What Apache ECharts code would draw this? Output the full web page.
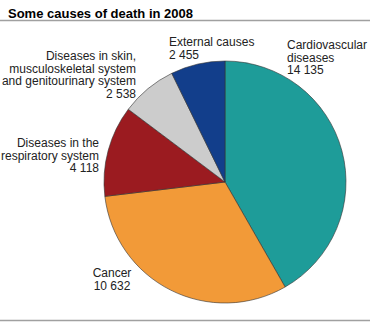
<!DOCTYPE html>
<html><head><meta charset="utf-8">
<script src="https://cdn.jsdelivr.net/npm/echarts@6/dist/echarts.min.js"></script>
<style>html,body{margin:0;padding:0;background:#fff}#c{width:370px;height:323px}</style>
</head><body><div id="c"></div>
<script>
const categories = ["Cardiovascular\ndiseases", "Cancer", "Diseases in the\nrespiratory system", "Diseases in skin,\nmusculoskeletal system\nand genitourinary system", "External causes"];
const values = [14135, 10632, 4118, 2538, 2455];
const valueLabels = ["14 135", "10 632", "4 118", "2 538", "2 455"];
const colors = ["#1e9c99", "#f29a38", "#9b1b20", "#cccccc", "#123e8b"];
const labelPos = [
  {x: 287, y: 39, align: 'left'},
  {x: 112, y: 267, align: 'center'},
  {x: 99, y: 137, align: 'right'},
  {x: 136, y: 50, align: 'right'},
  {x: 169, y: 36, align: 'left'}
];
const chart = echarts.init(document.getElementById('c'), null, {renderer: 'svg'});
chart.setOption({
  animation: false,
  title: {text: 'Some causes of death in 2008', left: 3, top: 2,
    textStyle: {fontFamily: 'Liberation Sans', fontWeight: 'bold', fontSize: 13, color: '#000'}},
  graphic: [
    {type: 'line', shape: {x1: 0, y1: 20.5, x2: 370, y2: 20.5}, style: {stroke: '#a0a0a0', lineWidth: 1.5}},
    {type: 'line', shape: {x1: 0, y1: 320.5, x2: 370, y2: 320.5}, style: {stroke: '#a0a0a0', lineWidth: 1.5}}
  ],
  series: [{
    type: 'pie',
    center: [225, 182],
    radius: 121,
    startAngle: 90,
    clockwise: true,
    avoidLabelOverlap: false,
    itemStyle: {borderColor: '#333', borderWidth: 0.6},
    label: {show: true, position: 'outside', overflow: 'none', fontFamily: 'Liberation Sans', fontSize: 12, lineHeight: 12.5, color: '#222',
      formatter: p => p.name + '\n' + valueLabels[p.dataIndex]},
    labelLine: {show: false},
    labelLayout: p => ({x: labelPos[p.dataIndex].x, y: labelPos[p.dataIndex].y, align: labelPos[p.dataIndex].align, verticalAlign: 'top'}),
    data: categories.map((c, i) => ({name: c, value: values[i], itemStyle: {color: colors[i]}}))
  }]
});
</script></body></html>
